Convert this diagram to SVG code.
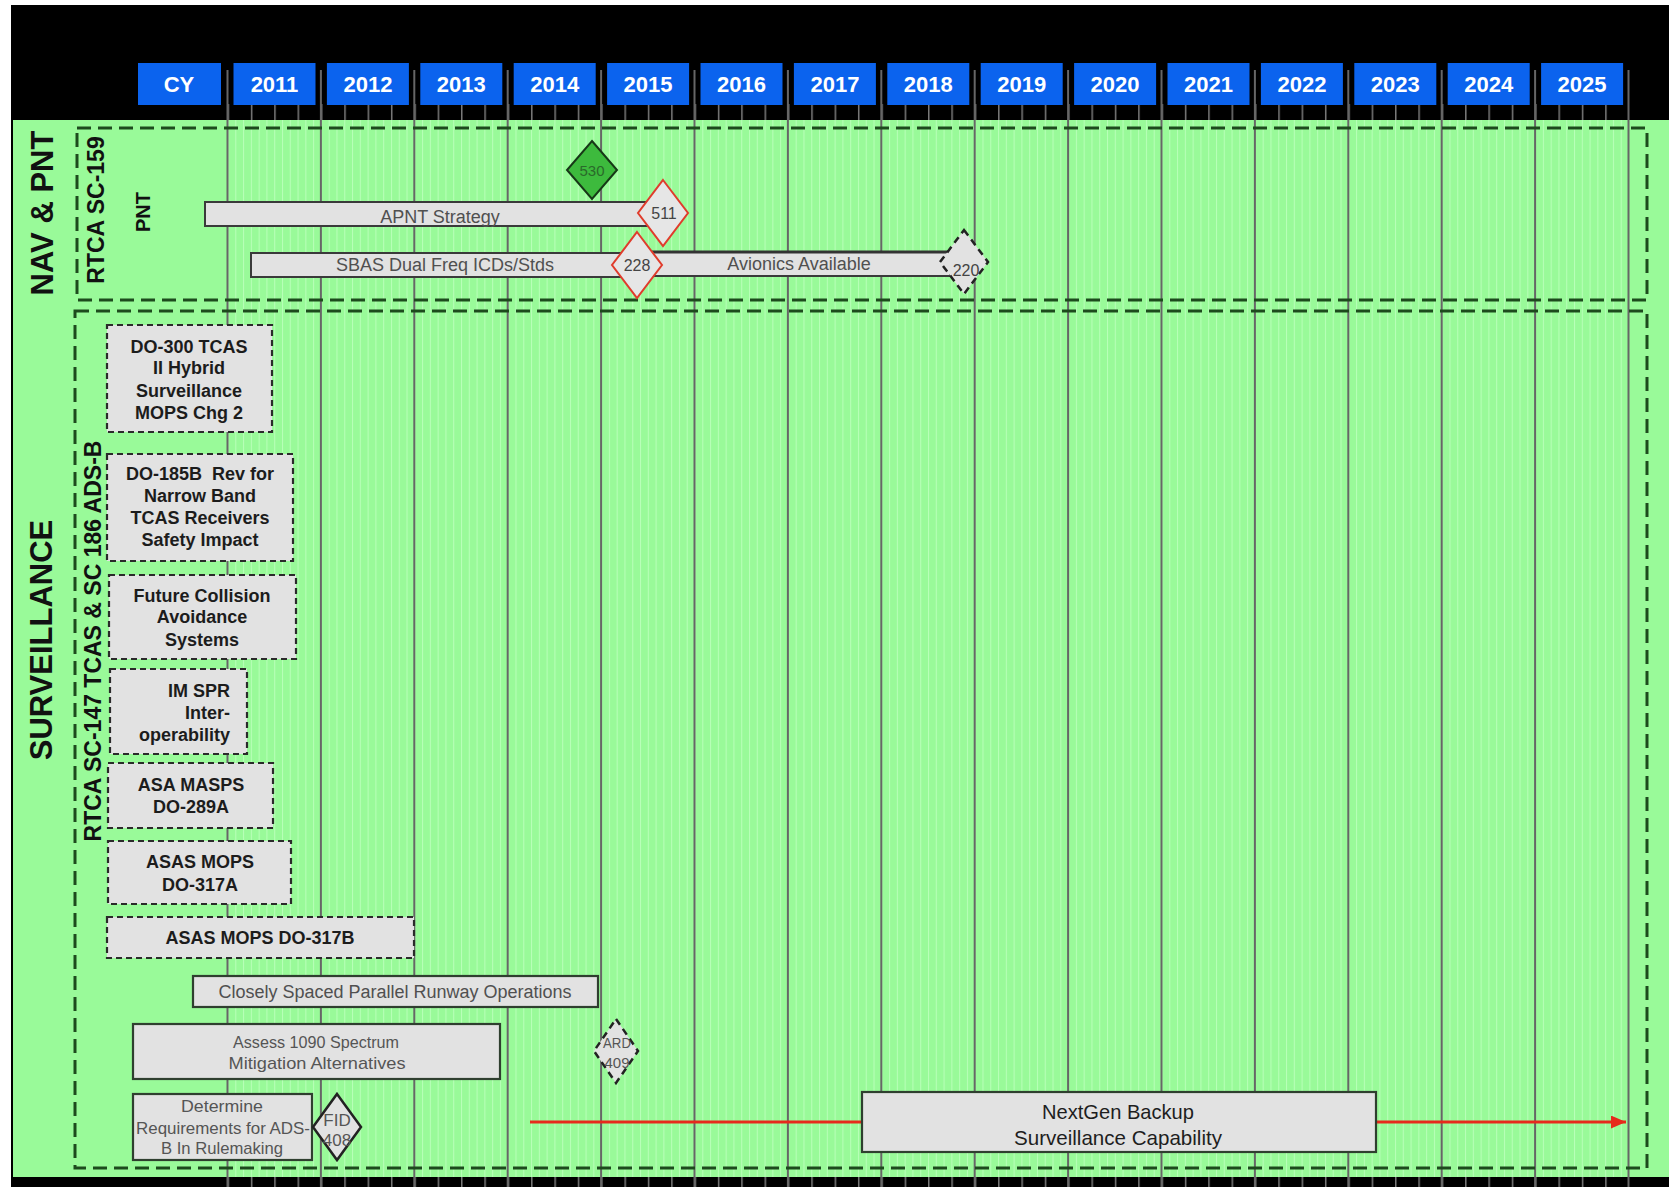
<svg xmlns="http://www.w3.org/2000/svg" width="1669" height="1187" viewBox="0 0 1669 1187">
<defs>
<style>
.yb{fill:#0b63ee}
.yt{font-family:"Liberation Sans",Arial,sans-serif;font-weight:bold;font-size:22px;fill:#ffffff;text-anchor:middle}
.grp{fill:none;stroke:#1d4a1d;stroke-width:3;stroke-dasharray:14 7}
.bar{fill:#e2e2e2;stroke:#3a3a3a;stroke-width:2}
.bt{font-family:"Liberation Sans",Arial,sans-serif;font-size:18px;fill:#505050;text-anchor:middle}
.db{fill:#e2e2e2;stroke:#2a2a2a;stroke-width:2.2;stroke-dasharray:6 4}
.dt{font-family:"Liberation Sans",Arial,sans-serif;font-weight:bold;font-size:18px;fill:#1c1c1c;text-anchor:middle}
.sb{fill:#e2e2e2;stroke:#2f3f2f;stroke-width:2.2}
.ct{font-family:"Liberation Sans",Arial,sans-serif;font-size:16px;fill:#555555;text-anchor:middle}
.nt{font-family:"Liberation Sans",Arial,sans-serif;font-size:16px;fill:#444444;text-anchor:middle}
.rot{font-family:"Liberation Sans",Arial,sans-serif;font-weight:bold;fill:#111111;text-anchor:middle}
.yl{fill:none;stroke:#666666;stroke-width:2}
.dm{fill:#e6e6e6;stroke:#e03c2c;stroke-width:2}
.dd{fill:#e2e2e2;stroke:#222222;stroke-width:2.5;stroke-dasharray:7 5}
</style>
<pattern id="stripes" x="227.5" y="0" width="7.7833" height="10" patternUnits="userSpaceOnUse"><rect x="0" y="0" width="1" height="10" fill="#b8ffb8"/></pattern>
<pattern id="ticks" x="227.5" y="0" width="23.35" height="10" patternUnits="userSpaceOnUse"><rect x="0" y="0" width="1.5" height="10" fill="#7a7a7a"/></pattern>
<marker id="arr" markerUnits="userSpaceOnUse" markerWidth="15" markerHeight="13" refX="15" refY="6.5" orient="auto"><path d="M0,0 L15,6.5 L0,13 z" fill="#e62a1c"/></marker>
</defs>

<g id="background">
<rect x="0" y="0" width="1669" height="1187" fill="#ffffff"/>
<rect x="11" y="5" width="1658" height="1182" fill="#000000"/>
<rect x="13" y="120" width="1656" height="1057" fill="#99fa99"/>
<rect x="227.5" y="120" width="1401" height="1057" fill="url(#stripes)"/>
<rect x="227.5" y="104" width="1401" height="16" fill="url(#ticks)"/>
<rect x="227.5" y="1177" width="1401" height="10" fill="url(#ticks)"/>
<path class="yl" d="M227.5 70V1187M320.9 70V1187M414.3 70V1187M507.7 70V1187M601.1 70V1187M694.5 70V1187M787.9 70V1187M881.3 70V1187M974.7 70V1187M1068.1 70V1187M1161.5 70V1187M1254.9 70V1187M1348.3 70V1187M1441.7 70V1187M1535.1 70V1187M1628.5 70V1187"/>
</g>

<g id="header">
<rect class="yb" x="138" y="63" width="83" height="42"/><text class="yt" x="179" y="92">CY</text>
<rect class="yb" x="233.5" y="63" width="82" height="42"/><text class="yt" x="274.5" y="92">2011</text>
<rect class="yb" x="326.9" y="63" width="82" height="42"/><text class="yt" x="367.9" y="92">2012</text>
<rect class="yb" x="420.3" y="63" width="82" height="42"/><text class="yt" x="461.3" y="92">2013</text>
<rect class="yb" x="513.7" y="63" width="82" height="42"/><text class="yt" x="554.7" y="92">2014</text>
<rect class="yb" x="607.1" y="63" width="82" height="42"/><text class="yt" x="648.1" y="92">2015</text>
<rect class="yb" x="700.5" y="63" width="82" height="42"/><text class="yt" x="741.5" y="92">2016</text>
<rect class="yb" x="793.9" y="63" width="82" height="42"/><text class="yt" x="834.9" y="92">2017</text>
<rect class="yb" x="887.3" y="63" width="82" height="42"/><text class="yt" x="928.3" y="92">2018</text>
<rect class="yb" x="980.7" y="63" width="82" height="42"/><text class="yt" x="1021.7" y="92">2019</text>
<rect class="yb" x="1074.1" y="63" width="82" height="42"/><text class="yt" x="1115.1" y="92">2020</text>
<rect class="yb" x="1167.5" y="63" width="82" height="42"/><text class="yt" x="1208.5" y="92">2021</text>
<rect class="yb" x="1260.9" y="63" width="82" height="42"/><text class="yt" x="1301.9" y="92">2022</text>
<rect class="yb" x="1354.3" y="63" width="82" height="42"/><text class="yt" x="1395.3" y="92">2023</text>
<rect class="yb" x="1447.7" y="63" width="82" height="42"/><text class="yt" x="1488.7" y="92">2024</text>
<rect class="yb" x="1541.1" y="63" width="82" height="42"/><text class="yt" x="1582.1" y="92">2025</text>
</g>

<g id="group-nav-pnt">
<rect class="grp" x="77" y="128" width="1570" height="172"/>
<text class="rot" style="font-size:31px" transform="translate(53,213) rotate(-90)">NAV &amp; PNT</text>
<text class="rot" style="font-size:23px" transform="translate(104,210) rotate(-90)">RTCA SC-159</text>
<text class="rot" style="font-size:20px" transform="translate(150,212) rotate(-90)">PNT</text>
</g>

<g id="group-surveillance">
<rect class="grp" x="75" y="311" width="1572" height="857"/>
<text class="rot" style="font-size:31px" transform="translate(52,640) rotate(-90)">SURVEILLANCE</text>
<text class="rot" style="font-size:23px" transform="translate(101,641) rotate(-90)">RTCA SC-147 TCAS &amp; SC 186 ADS-B</text>
</g>

<g id="connectors">
<line x1="530" y1="1122" x2="1626" y2="1122" stroke="#e62a1c" stroke-width="3" marker-end="url(#arr)"/>
</g>

<g id="apnt-strategy">
<rect class="bar" x="205" y="202" width="452" height="24"/>
<text class="bt" x="440" y="223">APNT Strategy</text>
</g>
<g id="m530">
<polygon points="592,141 617,170 592,199 567,170" fill="#3dba3d" stroke="#173817" stroke-width="2"/>
<text class="nt" x="592" y="176" style="font-size:15px;fill:#2a6a2a">530</text>
</g>
<g id="m511">
<polygon class="dm" points="663,180 688,213 663,246 638,213"/>
<text class="nt" x="664" y="219">511</text>
</g>
<g id="sbas-dual-freq">
<rect class="bar" x="251" y="253" width="390" height="24"/>
<text class="bt" x="445" y="271">SBAS Dual Freq ICDs/Stds</text>
</g>
<g id="avionics-available">
<rect class="bar" x="637" y="252" width="313" height="24"/>
<line x1="637" y1="252" x2="950" y2="252" stroke="#333" stroke-width="3"/>
<text class="bt" x="799" y="270">Avionics Available</text>
</g>
<g id="m228">
<polygon class="dm" points="637,232 662,265 637,298 612,265"/>
<text class="nt" x="637" y="271">228</text>
</g>
<g id="m220">
<polygon class="dd" points="964,230 988,262 964,294 940,262"/>
<text class="nt" x="966" y="276">220</text>
</g>

<g id="do-300">
<rect class="db" x="107" y="325" width="165" height="107"/>
<text class="dt" x="189" y="353">DO-300 TCAS</text>
<text class="dt" x="189" y="374">II Hybrid</text>
<text class="dt" x="189" y="397">Surveillance</text>
<text class="dt" x="189" y="419">MOPS Chg 2</text>
</g>
<g id="do-185b">
<rect class="db" x="107" y="454" width="186" height="107"/>
<text class="dt" x="200" y="480" style="white-space:pre">DO-185B  Rev for</text>
<text class="dt" x="200" y="502">Narrow Band</text>
<text class="dt" x="200" y="524">TCAS Receivers</text>
<text class="dt" x="200" y="546">Safety Impact</text>
</g>
<g id="future-collision">
<rect class="db" x="109" y="575" width="187" height="84"/>
<text class="dt" x="202" y="602">Future Collision</text>
<text class="dt" x="202" y="623">Avoidance</text>
<text class="dt" x="202" y="646">Systems</text>
</g>
<g id="im-spr">
<rect class="db" x="110" y="669" width="137" height="85"/>
<text class="dt" x="230" y="697" style="text-anchor:end">IM SPR</text>
<text class="dt" x="230" y="719" style="text-anchor:end">Inter-</text>
<text class="dt" x="230" y="741" style="text-anchor:end">operability</text>
</g>
<g id="asa-masps">
<rect class="db" x="108" y="763" width="165" height="65"/>
<text class="dt" x="191" y="791">ASA MASPS</text>
<text class="dt" x="191" y="813">DO-289A</text>
</g>
<g id="asas-mops-317a">
<rect class="db" x="108" y="841" width="183" height="63"/>
<text class="dt" x="200" y="868">ASAS MOPS</text>
<text class="dt" x="200" y="891">DO-317A</text>
</g>
<g id="asas-mops-317b">
<rect class="db" x="107" y="917" width="307" height="41"/>
<text class="dt" x="260" y="944">ASAS MOPS DO-317B</text>
</g>
<g id="csp-runway">
<rect class="sb" x="193" y="976" width="405" height="31"/>
<text class="bt" x="395" y="998">Closely Spaced Parallel Runway Operations</text>
</g>
<g id="assess-1090">
<rect class="sb" x="133" y="1024" width="367" height="55"/>
<text class="ct" x="316" y="1048" style="font-size:17px" textLength="166" lengthAdjust="spacingAndGlyphs">Assess 1090 Spectrum</text>
<text class="ct" x="317" y="1069" style="font-size:17px" textLength="177" lengthAdjust="spacingAndGlyphs">Mitigation Alternatives</text>
</g>
<g id="m409">
<polygon class="dd" points="616,1019 638,1051 616,1083 594,1051"/>
<text class="ct" x="617" y="1048" style="font-size:15px" textLength="28" lengthAdjust="spacingAndGlyphs">ARD</text>
<text class="ct" x="617" y="1068" style="font-size:15px">409</text>
</g>
<g id="determine-req">
<rect class="sb" x="133" y="1094" width="179" height="66"/>
<text class="ct" x="222" y="1112" style="font-size:17px" textLength="82" lengthAdjust="spacingAndGlyphs">Determine</text>
<text class="ct" x="223" y="1134" style="font-size:17px" textLength="174" lengthAdjust="spacingAndGlyphs">Requirements for ADS-</text>
<text class="ct" x="222" y="1154" style="font-size:17px" textLength="122" lengthAdjust="spacingAndGlyphs">B In Rulemaking</text>
</g>
<g id="m408">
<polygon points="337,1094 361,1127 337,1160 313,1127" fill="#e2e2e2" stroke="#222" stroke-width="2.5"/>
<text class="ct" x="337" y="1126" style="font-size:17px">FID</text>
<text class="ct" x="337" y="1146" style="font-size:17px">408</text>
</g>
<g id="nextgen-backup">
<rect class="sb" x="862" y="1092" width="514" height="60"/>
<text class="ct" x="1118" y="1119" style="font-size:21px;fill:#1e1e1e" textLength="152" lengthAdjust="spacingAndGlyphs">NextGen Backup</text>
<text class="ct" x="1118" y="1145" style="font-size:21px;fill:#1e1e1e" textLength="208" lengthAdjust="spacingAndGlyphs">Surveillance Capability</text>
</g>
</svg>
